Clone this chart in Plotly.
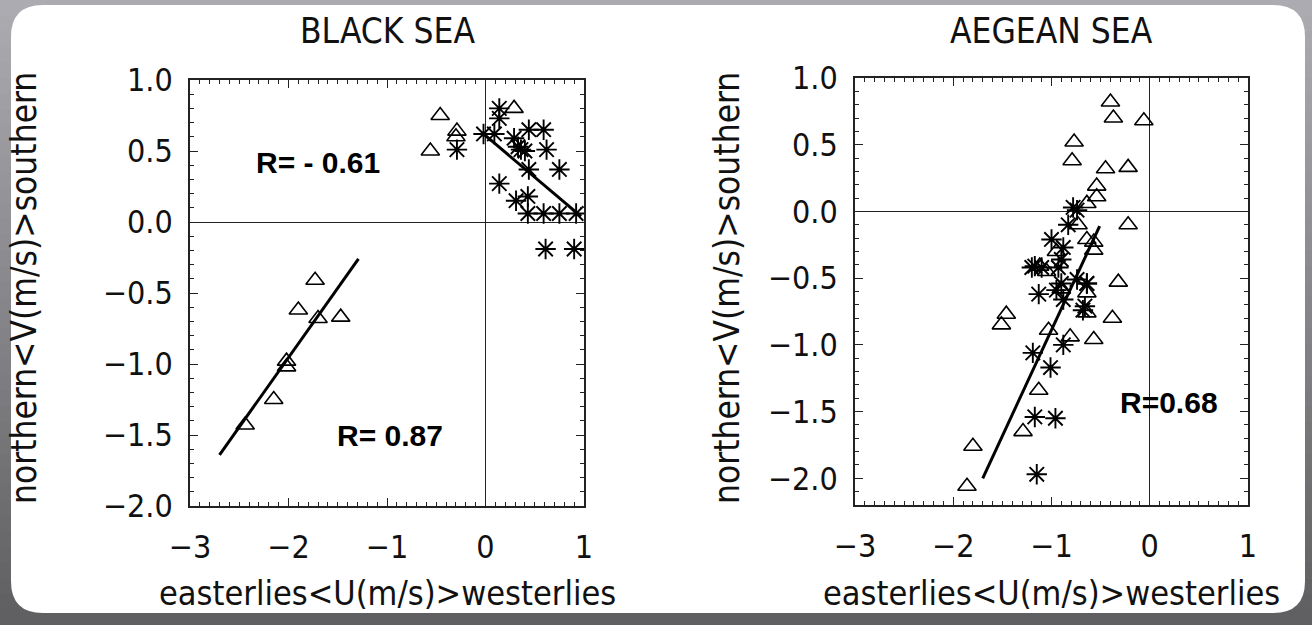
import plotly.graph_objects as go

W, H = 1312, 625

# ---------------- data ----------------
# Black Sea
bs_tri_u = [-0.46, -0.29, -0.30, -0.56, 0.29, -1.73, -1.90, -1.70, -1.47, -2.02, -2.02, -2.15, -2.44]
bs_tri_v = [0.75, 0.64, 0.60, 0.50, 0.80, -0.41, -0.62, -0.68, -0.67, -0.98, -1.02, -1.25, -1.43]
bs_ast_u = [-0.29, -0.02, 0.14, 0.14, 0.09, 0.29, 0.44, 0.59, 0.36, 0.33, 0.40, 0.62, 0.44, 0.75,
            0.14, 0.31, 0.43, 0.43, 0.59, 0.75, 0.92, 0.61, 0.90]
bs_ast_v = [0.51, 0.62, 0.80, 0.73, 0.62, 0.59, 0.65, 0.65, 0.51, 0.53, 0.50, 0.51, 0.37, 0.37,
            0.27, 0.15, 0.18, 0.06, 0.06, 0.06, 0.06, -0.19, -0.19]
bs_fit_neg_u = [-0.02, 0.97]
bs_fit_neg_v = [0.62, 0.04]
bs_fit_pos_u = [-2.70, -1.29]
bs_fit_pos_v = [-1.64, -0.26]

# Aegean Sea
ae_tri_u = [-0.40, -0.37, -0.06, -0.77, -0.79, -0.45, -0.22, -0.54, -0.54, -0.64, -0.22, -0.73,
            -0.64, -0.57, -0.57, -0.32, -0.64, -0.64, -0.38, -1.46, -1.51, -1.03, -0.81, -0.57,
            -1.13, -1.29, -1.80, -1.86, -1.12, -0.95, -0.90, -1.05]
ae_tri_v = [0.82, 0.70, 0.68, 0.52, 0.38, 0.32, 0.33, 0.19, 0.11, 0.06, -0.10, -0.10,
            -0.21, -0.23, -0.29, -0.53, -0.61, -0.76, -0.80, -0.77, -0.85, -0.89, -0.94, -0.96,
            -1.34, -1.65, -1.76, -2.06, -0.41, -0.30, -0.58, -0.45]
ae_ast_u = [-0.74, -0.78, -0.83, -1.00, -0.88, -0.90, -1.17, -1.10, -0.93, -0.74, -0.64, -1.13,
            -0.95, -0.88, -0.66, -1.20, -0.90, -0.64, -0.68, -1.19, -0.88, -1.01, -1.17, -0.96, -1.15]
ae_ast_v = [0.01, 0.03, -0.10, -0.21, -0.27, -0.36, -0.41, -0.42, -0.42, -0.51, -0.54, -0.62,
            -0.59, -0.66, -0.71, -0.42, -0.54, -0.54, -0.74, -1.06, -1.00, -1.17, -1.54, -1.55, -1.97]
ae_fit_u = [-1.70, -0.51]
ae_fit_v = [-2.00, -0.11]

titles = ["BLACK SEA", "AEGEAN SEA"]
x_title = "easterlies<U(m/s)>westerlies"
y_title = "northern<V(m/s)>southern"
r_texts = ["R= - 0.61", "R= 0.87", "R=0.68"]
r_pos = [(-1.70, 0.42), (-0.97, -1.50), (0.20, -1.43)]

FONT = "DejaVu Sans Condensed, Liberation Sans Narrow, Arial Narrow, DejaVu Sans"
BOLD = "Liberation Sans, Arial"

# ---------------- figure ----------------
fig = go.Figure()

tri_style = dict(symbol="triangle-up-open", size=16, color="black", line=dict(width=1.6, color="black"))
ast_style = dict(symbol="asterisk-open", size=17, color="black", line=dict(width=1.9, color="black"))

fig.add_trace(go.Scatter(x=bs_tri_u, y=bs_tri_v, mode="markers", marker=tri_style, xaxis="x", yaxis="y"))
fig.add_trace(go.Scatter(x=bs_ast_u, y=bs_ast_v, mode="markers", marker=ast_style, xaxis="x", yaxis="y"))
fig.add_trace(go.Scatter(x=bs_fit_neg_u, y=bs_fit_neg_v, mode="lines", line=dict(color="black", width=3), xaxis="x", yaxis="y"))
fig.add_trace(go.Scatter(x=bs_fit_pos_u, y=bs_fit_pos_v, mode="lines", line=dict(color="black", width=3), xaxis="x", yaxis="y"))

fig.add_trace(go.Scatter(x=ae_tri_u, y=ae_tri_v, mode="markers", marker=tri_style, xaxis="x2", yaxis="y2"))
fig.add_trace(go.Scatter(x=ae_ast_u, y=ae_ast_v, mode="markers", marker=ast_style, xaxis="x2", yaxis="y2"))
fig.add_trace(go.Scatter(x=ae_fit_u, y=ae_fit_v, mode="lines", line=dict(color="black", width=3), xaxis="x2", yaxis="y2"))

def px(x):
    return x / W

def py(y):
    return 1 - y / H

common_axis = dict(
    showgrid=False, showline=True, linecolor="#222", linewidth=1.6, mirror="allticks",
    ticks="inside", ticklen=8, tickwidth=1.3, tickcolor="#222", automargin=False,
    zeroline=True, zerolinecolor="#222", zerolinewidth=1.2,
    tickfont=dict(family=FONT, size=32, color="#111"),
)

xaxis_common = dict(common_axis, range=[-3, 1], tickvals=[-3, -2, -1, 0, 1],
                    ticktext=["\u22123", "\u22122", "\u22121", "0", "1"],
                    minor=dict(ticks="inside", dtick=0.1, tick0=0, ticklen=4, tickwidth=1.1, tickcolor="#222"),
                    ticklabelstandoff=12)
ytick_vals = [-2.0, -1.5, -1.0, -0.5, 0.0, 0.5, 1.0]
ytick_text = ["\u22122.0", "\u22121.5", "\u22121.0", "\u22120.5", "0.0", "0.5", "1.0"]
yaxis_common = dict(common_axis, tickvals=ytick_vals, ticktext=ytick_text,
                    minor=dict(ticks="inside", dtick=0.1, tick0=0, ticklen=4, tickwidth=1.1, tickcolor="#222"),
                    ticklabelstandoff=9)

fig.update_layout(
    width=W, height=H, margin=dict(l=0, r=0, t=0, b=0, pad=0, autoexpand=False),
    paper_bgcolor="#8f8e94", plot_bgcolor="rgba(0,0,0,0)", showlegend=False,
    xaxis=dict(xaxis_common, domain=[px(190), px(584)], anchor="y"),
    yaxis=dict(yaxis_common, domain=[py(506), py(80)], range=[-2.0, 1.0], anchor="x"),
    xaxis2=dict(xaxis_common, domain=[px(855), px(1248)], anchor="y2"),
    yaxis2=dict(yaxis_common, domain=[py(505), py(78)], range=[-2.2, 1.0], anchor="x2"),
)

# background: vertical gray gradient bands + white rounded panel
shapes = []
n = 40
top_c = (172, 171, 177)
bot_c = (96, 96, 98)
for i in range(n):
    t = i / (n - 1)
    c = tuple(int(top_c[k] + (bot_c[k] - top_c[k]) * t) for k in range(3))
    shapes.append(dict(type="rect", xref="paper", yref="paper", x0=0, x1=1,
                       y0=max(0, 1 - (i + 1) / n - 0.001), y1=1 - i / n, line=dict(width=0),
                       fillcolor="rgb(%d,%d,%d)" % c, layer="below"))

L, R, T, B, rad = 11, 1305, 5, 613, 32
def P(x, y):
    return "%.5f,%.5f" % (px(x), py(y))
path = ("M " + P(L + rad, T) + " L " + P(R - rad, T) + " Q " + P(R, T) + " " + P(R, T + rad) +
        " L " + P(R, B - rad) + " Q " + P(R, B) + " " + P(R - rad, B) +
        " L " + P(L + rad, B) + " Q " + P(L, B) + " " + P(L, B - rad) +
        " L " + P(L, T + rad) + " Q " + P(L, T) + " " + P(L + rad, T) + " Z")
shapes.append(dict(type="path", xref="paper", yref="paper", path=path, fillcolor="white",
                   line=dict(width=0), layer="below"))
fig.update_layout(shapes=shapes)

ann = []
for title, cx in zip(titles, [387, 1051]):
    ann.append(dict(text=title, x=px(cx), y=py(31), xref="paper", yref="paper", showarrow=False,
                    font=dict(family=FONT, size=35, color="#111"), xanchor="center", yanchor="middle"))
for cx in [387, 1051]:
    ann.append(dict(text=x_title, x=px(cx), y=py(593), xref="paper", yref="paper", showarrow=False,
                    font=dict(family=FONT, size=34, color="#111"), xanchor="center", yanchor="middle"))
for cx in [24, 727]:
    ann.append(dict(text=y_title, x=px(cx), y=py(288), xref="paper", yref="paper", showarrow=False,
                    textangle=-90, font=dict(family=FONT, size=35, color="#111"),
                    xanchor="center", yanchor="middle"))
for (t, (xx, yy)), (xr, yr) in zip(zip(r_texts, r_pos), [("x", "y"), ("x", "y"), ("x2", "y2")]):
    ann.append(dict(text="<b>%s</b>" % t, x=xx, y=yy, xref=xr, yref=yr, showarrow=False,
                    font=dict(family=BOLD, size=30, color="black"), xanchor="center", yanchor="middle"))
fig.update_layout(annotations=ann)

fig.write_html("out.html")
